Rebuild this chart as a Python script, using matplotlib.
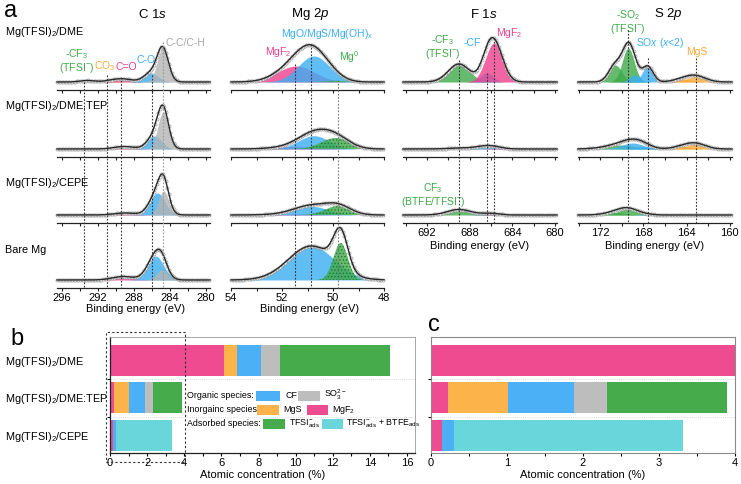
import numpy as np
import matplotlib
matplotlib.use("Agg")
import matplotlib.pyplot as plt
from matplotlib.patches import Rectangle
from matplotlib.lines import Line2D
from matplotlib.ticker import MultipleLocator
import matplotlib.transforms as mtrans

plt.rcParams['font.family'] = ['Liberation Sans', 'DejaVu Sans']
plt.rcParams['mathtext.fontset'] = 'custom'
plt.rcParams['mathtext.rm'] = 'Liberation Sans'
plt.rcParams['mathtext.it'] = 'Liberation Sans:italic'
plt.rcParams['mathtext.default'] = 'regular'
plt.rcParams['hatch.linewidth'] = 0.6

# ---------------- data ----------------
samples = ["Mg(TFSI)$_2$/DME", "Mg(TFSI)$_2$/DME:TEP", "Mg(TFSI)$_2$/CEPE", "Bare Mg"]

# fitted XPS components: (component, centre eV, height a.u., sigma eV)
c1s_dme = [("CF3", 293.2, 1.5, 0.8), ("CO3", 290.6, 1.0, 0.8), ("C=O", 289.2, 3.0, 1.0),
           ("C-O", 286.1, 9.0, 0.8), ("C-C", 284.8, 33.0, 0.62)]
c1s_tep = [("C=O", 289.1, 2.5, 1.1), ("C-O", 285.7, 13.0, 0.8), ("C-C", 284.75, 37.0, 0.6)]
c1s_cepe = [("C=O", 289.0, 2.0, 1.2), ("C-O", 285.4, 22.0, 0.85), ("C-C", 284.7, 24.0, 0.55)]
c1s_bare = [("C=O", 289.2, 3.5, 1.2), ("C-O", 285.6, 24.0, 0.9), ("C-C", 284.9, 10.0, 0.6)]

mg2p_dme = [("MgF2", 51.45, 16.0, 0.72), ("MgO", 50.75, 26.0, 0.61), ("Mg0", 49.9, 1.2, 0.4)]
mg2p_tep = [("MgF2", 51.4, 2.7, 0.8), ("MgO", 50.75, 13.3, 0.6), ("Mg0", 49.9, 11.0, 0.55)]
mg2p_cepe = [("MgF2", 51.6, 1.0, 0.8), ("MgO", 50.85, 8.7, 0.65), ("Mg0", 49.8, 9.0, 0.5)]
mg2p_bare = [("MgO", 50.85, 34.0, 0.9), ("Mg0", 49.7, 37.0, 0.28)]

f1s_dme = [("CF3", 689.0, 18.0, 1.0), ("CF", 686.4, 9.0, 0.6), ("MgF2", 685.7, 39.0, 0.8)]
f1s_tep = [("CF3", 689.0, 0.8, 1.2), ("CF", 686.4, 3.0, 1.0), ("MgF2", 685.7, 0.6, 0.8)]
f1s_cepe = [("CF3", 689.0, 5.5, 1.1), ("CF", 686.4, 1.0, 0.8), ("MgF2", 685.7, 0.8, 0.7)]

s2p_dme = [("SO2", 170.6, 17.0, 0.6), ("SO2", 169.4, 34.0, 0.55), ("SOx", 168.8, 7.0, 0.5),
           ("SOx", 167.6, 15.5, 0.5), ("MgS", 164.3, 2.8, 0.9), ("MgS", 163.1, 5.5, 0.9)]
s2p_tep = [("SO2", 170.2, 4.0, 1.4), ("SOx", 169.0, 6.0, 1.0), ("SOx", 168.0, 2.5, 0.8),
           ("MgS", 164.3, 2.5, 0.9), ("MgS", 163.1, 5.0, 0.9)]
s2p_cepe = [("SO2", 170.6, 2.5, 1.0), ("SO2", 169.4, 6.0, 0.9), ("SOx", 167.8, 0.6, 0.7)]

# reference binding energies (dashed guide lines)
c1s_refs = [293.6, 291.0, 289.4, 286.0, 284.8]
mg2p_refs = [51.5, 50.86, 49.8]
f1s_refs = [689.0, 686.4, 685.7]
s2p_refs = [169.4, 167.6, 163.1]

# atomic concentration (%) for panels b / c
bar_samples = ["Mg(TFSI)$_2$/DME", "Mg(TFSI)$_2$/DME:TEP", "Mg(TFSI)$_2$/CEPE"]
mgf2 = [6.13, 0.22, 0.145]
mgs = [0.69, 0.79, 0.0]
cf = [1.31, 0.87, 0.155]
so3 = [1.02, 0.44, 0.0]
tfsi_ads = [5.95, 1.58, 0.0]
tfsi_btfe = [0.0, 0.0, 3.02]

# ---------------- style ----------------
GREEN = '#3DAA48'
BLUE = '#3AAEF2'
PINK = '#EE3F8C'
GRAY = '#B4B4B4'
ORANGE = '#F9A93B'
CYAN = '#68D6DB'

comp_colors = {"CF3": GREEN, "CO3": ORANGE, "C=O": PINK, "C-O": BLUE, "C-C": GRAY,
               "MgF2": PINK, "MgO": BLUE, "Mg0": GREEN, "CF": BLUE,
               "SO2": GREEN, "SOx": BLUE, "MgS": ORANGE}

W, H = 741, 484
fig = plt.figure(figsize=(W / 100, H / 100), dpi=100)


def add_ax(l, t, r, b):
    return fig.add_axes([l / W, 1 - b / H, (r - l) / W, (b - t) / H])


def fy(y):
    return 1 - y / H


def ftext(x, y, s, **kw):
    kw.setdefault('fontsize', 8)
    kw.setdefault('va', 'center')
    fig.text(x / W, fy(y), s, **kw)


axis_rows = [90, 157, 223, 288]

columns = [
    dict(name="C $\\mathit{1s}$", px=(57, 210), xlim=(296.55, 279.55), major=4, minor=2,
         rows=[c1s_dme, c1s_tep, c1s_cepe, c1s_bare], refs=c1s_refs,
         refstart=[82, 75, 77, 75, 42], refcol=['#333', '#333', '#333', '#333', '#9a9a9a'],
         title_x=152),
    dict(name="Mg $\\mathit{2p}$", px=(231, 384), xlim=(54, 48), major=2, minor=1,
         rows=[mg2p_dme, mg2p_tep, mg2p_cepe, mg2p_bare], refs=mg2p_refs,
         refstart=[64, 44, 80], refcol=['#333', '#333', '#777'], title_x=310),
    dict(name="F $\\mathit{1s}$", px=(403, 557), xlim=(694.25, 679.8), major=4, minor=2,
         rows=[f1s_dme, f1s_tep, f1s_cepe], refs=f1s_refs,
         refstart=[60, 73, 38], refcol=['#333', '#333', '#333'], title_x=484),
    dict(name="S $\\mathit{2p}$", px=(578, 732), xlim=(174.05, 159.8), major=4, minor=2,
         rows=[s2p_dme, s2p_tep, s2p_cepe], refs=s2p_refs,
         refstart=[30, 58, 58], refcol=['#333', '#333', '#333'], title_x=668),
]

for col in columns:
    l, r = col['px']
    nrows = len(col['rows'])
    last_ax = None
    for i, peaks in enumerate(col['rows']):
        yb = axis_rows[i]
        ax = add_ax(l, yb - 62, r, yb)
        ax.set_xlim(*col['xlim'])
        ax.set_ylim(-8, 54)
        ax.patch.set_alpha(0)
        x = np.linspace(col['xlim'][0], col['xlim'][1], 500)
        total = np.zeros_like(x)
        for name, c0, h, s in peaks:
            g = h * np.exp(-(x - c0) ** 2 / (2 * s ** 2))
            total += g
            if name == "Mg0":
                kw = dict(hatch='.....', edgecolor='#1d6b25', linewidth=0)
            else:
                kw = dict(linewidth=0)
            ax.fill_between(x, 0, g, color=comp_colors[name], alpha=0.8, zorder=1, **kw)
        ax.plot(x, total, ls='none', marker='o', markevery=5, ms=2.2, mfc='white',
                mec='#9a9a9a', mew=0.5, zorder=2, clip_on=False)
        ax.plot(x, total, color='#2a2a2a', lw=1.0, zorder=3, clip_on=False)
        for sp in ['left', 'right', 'top']:
            ax.spines[sp].set_visible(False)
        ax.spines['bottom'].set_color('#222')
        ax.spines['bottom'].set_linewidth(0.9)
        ax.set_yticks([])
        ax.xaxis.set_major_locator(MultipleLocator(col['major']))
        ax.xaxis.set_minor_locator(MultipleLocator(col['minor']))
        ax.tick_params(axis='x', which='both', direction='out', length=2.5, width=0.8,
                       color='#222', labelsize=8, pad=1)
        if i < nrows - 1:
            ax.tick_params(axis='x', labelbottom=False)
        last_ax = ax
    # dashed guide lines
    tr = mtrans.blended_transform_factory(last_ax.transData, fig.transFigure)
    ybot = axis_rows[nrows - 1]
    for xr, ys, cc in zip(col['refs'], col['refstart'], col['refcol']):
        fig.add_artist(Line2D([xr, xr], [fy(ys), fy(ybot)], transform=tr, color=cc,
                              lw=0.8, ls=(0, (1.5, 1.5)), zorder=5))
    ylab = 309 if nrows == 4 else 246
    ftext((l + r) / 2 + (2 if nrows == 4 else 0), ylab, "Binding energy (eV)", ha='center')
    ftext(col['title_x'], 14, col['name'], ha='center', fontsize=9.5)

# panel a labels
ftext(4, 11, "a", fontsize=17, ha='left')
for s, y in zip(samples, [32, 106, 183, 250]):
    ftext(5, y, s, ha='left', fontsize=7.8)

# peak annotations
AF = 7.5
ftext(77, 61, "-CF$_3$\n(TFSI$^{-}$)", color=GREEN, ha='center', fontsize=AF, linespacing=1.05)
ftext(105, 66, "CO$_3$", color=ORANGE, ha='center', fontsize=AF)
ftext(126, 67, "C=O", color=PINK, ha='center', fontsize=AF)
ftext(146, 60, "C-O", color=BLUE, ha='center', fontsize=AF)
ftext(185, 43, "C-C/C-H", color='#a8a8a8', ha='center', fontsize=AF)

ftext(327, 34, "MgO/MgS/Mg(OH)$_x$", color=BLUE, ha='center', fontsize=AF)
ftext(278, 52, "MgF$_2$", color=PINK, ha='center', fontsize=AF)
ftext(349, 57, "Mg$^0$", color=GREEN, ha='center', fontsize=AF)

ftext(443, 47, "-CF$_3$\n(TFSI$^{-}$)", color=GREEN, ha='center', fontsize=AF, linespacing=1.05)
ftext(472, 43, "-CF", color=BLUE, ha='center', fontsize=AF)
ftext(509, 33, "MgF$_2$", color=PINK, ha='center', fontsize=AF)
ftext(433, 195, "CF$_3$\n(BTFE/TFSI$^{-}$)", color=GREEN, ha='center', fontsize=AF,
      linespacing=1.05)

ftext(628, 22, "-SO$_2$\n(TFSI$^{-}$)", color=GREEN, ha='center', fontsize=AF, linespacing=1.05)
ftext(660, 43, "SO$\\mathit{x}$ ($\\mathit{x}$<2)", color=BLUE, ha='center', fontsize=AF)
ftext(697, 52, "MgS", color=ORANGE, ha='center', fontsize=AF)

# ---------------- panels b and c ----------------
seg_lists = [mgf2, mgs, cf, so3, tfsi_ads, tfsi_btfe]
seg_colors = ['#EE4B91', '#FBB34A', '#4BB0F5', '#BDBDBD', '#45AB4B', CYAN]
ypos = np.arange(len(bar_samples))


def draw_bars(ax):
    left = np.zeros(len(bar_samples))
    for vals, cc in zip(seg_lists, seg_colors):
        v = np.array(vals)
        ax.barh(ypos, v, left=left, height=0.82, color=cc, edgecolor='none', zorder=2)
        left = left + v
    ax.set_ylim(2.46, -0.61)
    ax.set_yticks([0.5, 1.5])
    ax.set_yticklabels([])
    ax.tick_params(axis='y', length=2, width=0.8)
    for yl in [0.5, 1.5]:
        ax.axhline(yl, color='#cfcfcf', lw=0.6, ls=(0, (1, 1.5)), zorder=1)
    ax.tick_params(axis='x', which='both', direction='out', labelsize=8, width=0.8, pad=1)
    ax.tick_params(axis='x', which='major', length=2.5)
    ax.tick_params(axis='x', which='minor', length=1.8)
    ax.set_xlabel("Atomic concentration (%)", fontsize=8, labelpad=1.5)


axb = add_ax(110, 337, 415, 453)
draw_bars(axb)
axb.set_xlim(0, 16.43)
axb.xaxis.set_major_locator(MultipleLocator(2))
axb.xaxis.set_minor_locator(MultipleLocator(1))
for sp in ['top', 'right']:
    axb.spines[sp].set_color('#9a9a9a')
    axb.spines[sp].set_linewidth(0.6)
for sp in ['left', 'bottom']:
    axb.spines[sp].set_color('#222')
    axb.spines[sp].set_linewidth(0.9)

trb = mtrans.blended_transform_factory(axb.transData, axb.transAxes)
axb.add_patch(Rectangle((-0.22, -0.08), 4.25, 1.12, transform=trb, fill=False,
                        ls=(0, (2, 2)), lw=0.8, edgecolor='#333', clip_on=False, zorder=6))

axc = add_ax(431, 337, 735, 453)
draw_bars(axc)
axc.set_xlim(0, 4)
axc.xaxis.set_major_locator(MultipleLocator(1))
axc.xaxis.set_minor_locator(MultipleLocator(0.5))
for sp in axc.spines.values():
    sp.set_color('#8a8a8a')
    sp.set_linewidth(0.8)

ftext(17, 339, "b", fontsize=17, ha='center')
ftext(434, 325, "c", fontsize=17, ha='center')
for s, y in zip(bar_samples, [362, 399, 437]):
    ftext(5, y, s, ha='left', fontsize=7.8)


# custom legend inside b
def leg_patch(x0, x1, yc, color):
    fig.add_artist(Rectangle((x0 / W, fy(yc + 5)), (x1 - x0) / W, 10 / H,
                             transform=fig.transFigure, facecolor=color, edgecolor='none',
                             zorder=7))


LF = 6.4
ftext(187, 396, "Organic species:", ha='left', fontsize=LF)
leg_patch(256, 280, 396, seg_colors[2])
ftext(285, 396, "CF", ha='left', fontsize=LF)
leg_patch(298, 320, 396, seg_colors[3])
ftext(324, 395, "SO$_3^{2-}$", ha='left', fontsize=LF)

ftext(187, 410, "Inorgainc species:", ha='left', fontsize=LF)
leg_patch(257, 279, 410, seg_colors[1])
ftext(283, 410, "MgS", ha='left', fontsize=LF)
leg_patch(307, 328, 410, seg_colors[0])
ftext(332, 410, "MgF$_2$", ha='left', fontsize=LF)

ftext(187, 424, "Adsorbed species:", ha='left', fontsize=LF)
leg_patch(263, 285, 424, seg_colors[4])
ftext(289, 424, "TFSI$^{-}_{ads}$", ha='left', fontsize=LF)
leg_patch(322, 343, 424, seg_colors[5])
ftext(346, 424, "TFSI$^{-}_{ads}$ + BTFE$_{ads}$", ha='left', fontsize=LF)

fig.savefig("out.png", dpi=100)
